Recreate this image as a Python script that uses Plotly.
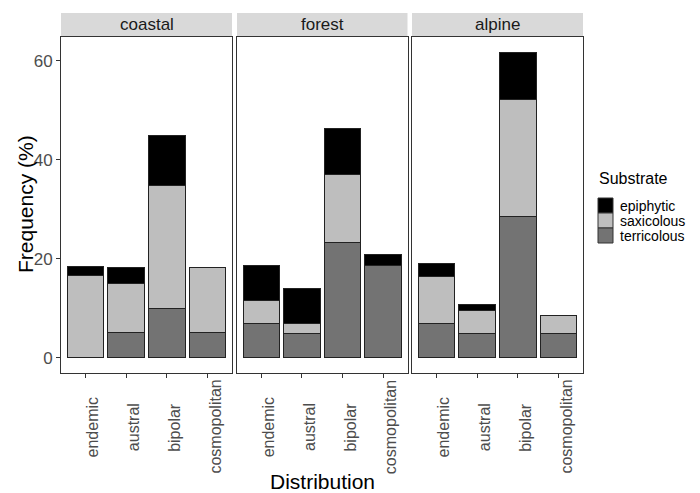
import plotly.graph_objects as go

# ---- data ----
habitats = ["coastal", "forest", "alpine"]
distributions = ["endemic", "austral", "bipolar", "cosmopolitan"]
substrates = ["epiphytic", "saxicolous", "terricolous"]

terricolous = {
    "coastal": [0.0, 5.0, 10.0, 5.0],
    "forest": [7.0, 4.8, 23.2, 18.6],
    "alpine": [7.0, 4.8, 28.5, 4.8],
}
saxicolous = {
    "coastal": [16.6, 9.9, 24.8, 13.3],
    "forest": [4.6, 2.1, 13.8, 0.0],
    "alpine": [9.5, 4.7, 23.6, 3.7],
}
epiphytic = {
    "coastal": [1.9, 3.4, 10.0, 0.0],
    "forest": [7.1, 7.1, 9.4, 2.3],
    "alpine": [2.5, 1.3, 9.6, 0.0],
}
y_ticks = [0, 20, 40, 60]

# ---- style ----
colors = {"epiphytic": "#000000", "saxicolous": "#BEBEBE", "terricolous": "#737373"}
W, H = 700, 493
FONT = "Liberation Sans, Arial, sans-serif"
panel_px = [(61, 232), (237, 407.5), (412, 583)]
panel_top, panel_bot = 37, 373
strip_top = 13


def px_x(x):
    return x / W


def px_y(y):
    return (H - y) / H


fig = go.Figure()
stack_order = [("terricolous", terricolous), ("saxicolous", saxicolous), ("epiphytic", epiphytic)]
for i, hab in enumerate(habitats):
    ax = "" if i == 0 else str(i + 1)
    for name, data in stack_order:
        fig.add_trace(go.Bar(
            x=distributions, y=data[hab], name=name,
            marker=dict(color=colors[name], line=dict(color="#222222", width=1)),
            width=0.9, showlegend=False, hoverinfo="skip",
            xaxis="x" + ax, yaxis="y" + ax,
        ))

layout = dict(
    width=W, height=H, barmode="stack",
    margin=dict(l=0, r=0, t=0, b=0, autoexpand=False),
    paper_bgcolor="white", plot_bgcolor="white",
    font=dict(family=FONT, color="#4D4D4D"),
)
ydom = [px_y(panel_bot), px_y(panel_top)]
for i, hab in enumerate(habitats):
    ax = "" if i == 0 else str(i + 1)
    layout["xaxis" + ax] = dict(
        domain=[px_x(panel_px[i][0]), px_x(panel_px[i][1])],
        anchor="y" + ax, type="category", categoryorder="array",
        categoryarray=distributions, range=[-0.6, 3.6], automargin=False,
        showline=True, mirror=True, linecolor="#333333", linewidth=1,
        ticks="outside", ticklen=4, tickcolor="#333333", tickwidth=1,
        showticklabels=False, showgrid=False, zeroline=False,
    )
    layout["yaxis" + ax] = dict(
        domain=ydom, anchor="x" + ax, range=[-3.1, 64.8], automargin=False,
        showline=True, mirror=True, linecolor="#333333", linewidth=1,
        tickvals=y_ticks, showticklabels=(i == 0),
        ticks="outside" if i == 0 else "", ticklen=4, tickcolor="#333333",
        tickfont=dict(size=17, color="#4D4D4D", family=FONT),
        showgrid=False, zeroline=False,
    )
fig.update_layout(**layout)

shapes, annotations = [], []
# strips + rotated category labels (centred under each tick, as in ggplot)
for i, hab in enumerate(habitats):
    ax = "" if i == 0 else str(i + 1)
    x0, x1 = panel_px[i]
    shapes.append(dict(type="rect", xref="paper", yref="paper",
                       x0=px_x(x0), x1=px_x(x1), y0=px_y(panel_top), y1=px_y(strip_top),
                       fillcolor="#D9D9D9", line=dict(width=0), layer="below"))
    annotations.append(dict(text=hab, xref="paper", yref="paper",
                            x=px_x((x0 + x1) / 2), y=px_y((panel_top + strip_top) / 2),
                            showarrow=False, xanchor="center", yanchor="middle",
                            font=dict(size=17, color="#1A1A1A", family=FONT)))
    for cat in distributions:
        annotations.append(dict(text=cat, xref="x" + ax, yref="paper",
                                x=cat, y=px_y(427), textangle=-90, xshift=7,
                                showarrow=False, xanchor="center", yanchor="middle",
                                font=dict(size=16, color="#4D4D4D", family=FONT)))

# axis titles
annotations.append(dict(text="Frequency (%)", xref="paper", yref="paper",
                        x=px_x(25), y=px_y(204), textangle=-90,
                        showarrow=False, xanchor="center", yanchor="middle",
                        font=dict(size=21, color="#000000", family=FONT)))
annotations.append(dict(text="Distribution", xref="paper", yref="paper",
                        x=px_x((panel_px[0][0] + panel_px[2][1]) / 2), y=px_y(481),
                        showarrow=False, xanchor="center", yanchor="middle",
                        font=dict(size=21, color="#000000", family=FONT)))

# legend
annotations.append(dict(text="Substrate", xref="paper", yref="paper",
                        x=px_x(597), y=px_y(178), showarrow=False,
                        xanchor="left", yanchor="middle",
                        font=dict(size=16, color="#000000", family=FONT)))
key_top, key_h = 198, 15
for j, name in enumerate(substrates):
    y0 = key_top + j * key_h
    shapes.append(dict(type="rect", xref="paper", yref="paper",
                       x0=px_x(598), x1=px_x(613), y0=px_y(y0 + key_h), y1=px_y(y0),
                       fillcolor=colors[name], line=dict(color="#333333", width=1)))
    annotations.append(dict(text=name, xref="paper", yref="paper",
                            x=px_x(618), y=px_y(y0 + key_h / 2), showarrow=False,
                            xanchor="left", yanchor="middle",
                            font=dict(size=14, color="#000000", family=FONT)))

fig.update_layout(shapes=shapes, annotations=annotations)
fig.write_html("out.html", config={"displayModeBar": False},
               post_script="document.body.style.margin='0';")
